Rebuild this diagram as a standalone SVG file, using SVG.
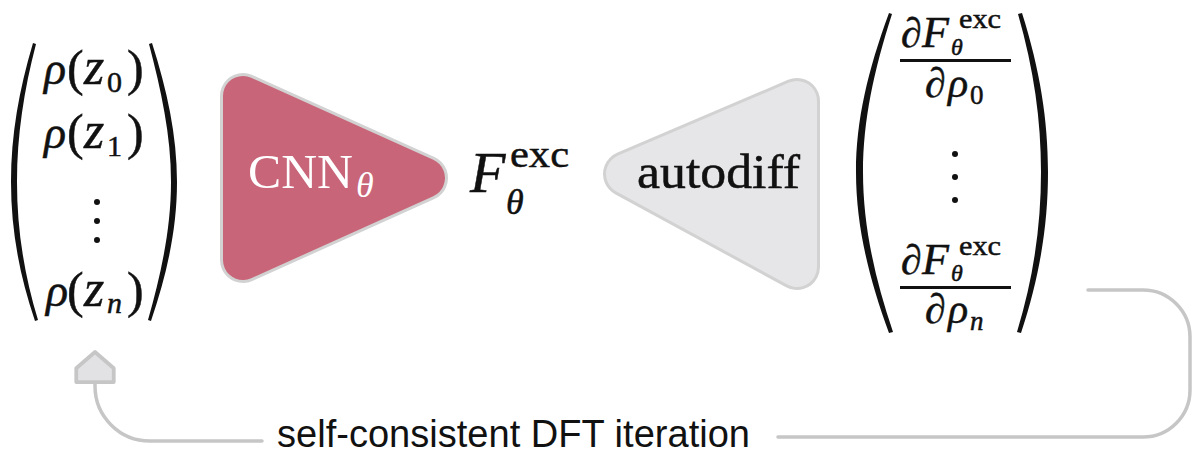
<svg xmlns="http://www.w3.org/2000/svg" width="1194" height="454" viewBox="0 0 1194 454">
<defs>
<style>
.m{font-family:"Liberation Serif","DejaVu Serif",serif;fill:#111;stroke:#111;stroke-width:0.5}
.i{font-style:italic}
.paren{fill:#111}
.conn{fill:none;stroke:#c6c6c6;stroke-width:3.5;stroke-linecap:round}
.lbl{font-family:"Liberation Sans",Arial,sans-serif;font-size:38px;fill:#111}
</style>
<marker id="house" markerUnits="userSpaceOnUse" markerWidth="50" markerHeight="50" viewBox="-5 -20 35 40" refX="0" refY="0" orient="auto" overflow="visible">
<path d="M0,-15 L11,-15 L24,0 L11,15 L0,15 Z" fill="#e2e2e4" stroke="#c6c6c6" stroke-width="3" stroke-linejoin="round"/>
</marker>
</defs>
<rect width="1194" height="454" fill="#ffffff"/>

<g id="input-vector">
<path class="paren" d="M33,43 C19,90 11,135 11,182 C11,229 19,274 35,321 L38,320 C24,274 17,229 17,182 C17,135 24,90 36,44 Z"/>
<path class="paren" d="M152,43 C167,90 177,135 177,182 C177,229 167,274 151,321 L148,320 C161,274 171,229 171,182 C171,135 161,90 149,44 Z"/>
<g font-size="46">
<text x="44" y="84" class="m i">ρ</text><text x="67" y="85" class="m" font-size="50">(</text><text x="84" y="84" class="m i" font-size="52">z</text><text x="107" y="92" class="m" font-size="30">0</text><text x="127" y="85" class="m" font-size="50">)</text>
<text x="44" y="148" class="m i">ρ</text><text x="67" y="149" class="m" font-size="50">(</text><text x="84" y="148" class="m i" font-size="52">z</text><text x="107" y="156" class="m" font-size="30">1</text><text x="127" y="149" class="m" font-size="50">)</text>
<text x="46" y="306" class="m i">ρ</text><text x="67" y="307" class="m" font-size="50">(</text><text x="84" y="306" class="m i" font-size="52">z</text><text x="107" y="313" class="m i" font-size="30">n</text><text x="127" y="307" class="m" font-size="50">)</text>
</g>
<circle cx="97" cy="202" r="3" fill="#111"/>
<circle cx="97" cy="221" r="3" fill="#111"/>
<circle cx="97" cy="240" r="3" fill="#111"/>
</g>

<g id="cnn">
<polygon points="243,96 425,178 243,260" fill="#d2d2d2" stroke="#d2d2d2" stroke-width="46" stroke-linejoin="round"/>
<polygon points="243,96 425,178 243,260" fill="#c96579" stroke="#c96579" stroke-width="40" stroke-linejoin="round"/>
<text x="248" y="188" font-family="Liberation Serif, DejaVu Serif, serif" font-size="48" fill="#ffffff" textLength="105" lengthAdjust="spacingAndGlyphs">CNN</text>
<text x="356" y="197" font-family="Liberation Serif, DejaVu Serif, serif" font-size="36" font-style="italic" fill="#ffffff">θ</text>
</g>

<g id="functional">
<text x="470" y="192" class="m i" font-size="58">F</text>
<text x="510" y="167" class="m" font-size="38" textLength="59" lengthAdjust="spacingAndGlyphs">exc</text>
<text x="506" y="214" class="m i" font-size="36">θ</text>
</g>

<g id="autodiff">
<polygon points="797,101 626,174 797,267" fill="#d2d2d2" stroke="#d2d2d2" stroke-width="46" stroke-linejoin="round"/>
<polygon points="797,101 626,174 797,267" fill="#e6e6e8" stroke="#e6e6e8" stroke-width="40" stroke-linejoin="round"/>
<text x="637" y="188" class="m" font-size="48" stroke-width="0.3" textLength="163" lengthAdjust="spacingAndGlyphs">autodiff</text>
</g>

<g id="gradient-vector">
<path class="paren" d="M889,13 C868,70 856,120 856,172 C856,224 868,276 889,333 L893,332 C874,276 863,224 863,172 C863,120 874,70 892,14 Z"/>
<path class="paren" d="M1022,13 C1040,70 1048,120 1048,172 C1048,224 1040,276 1021,333 L1017,332 C1034,276 1041,224 1041,172 C1041,120 1034,70 1018,14 Z"/>
<text x="901" y="47" class="m i" font-size="42">∂</text>
<text x="922" y="47" class="m i" font-size="44">F</text>
<text x="959" y="28" class="m" font-size="27" textLength="42" lengthAdjust="spacingAndGlyphs">exc</text>
<text x="951" y="55" class="m i" font-size="24">θ</text>
<rect x="900" y="59" width="111" height="3" fill="#111"/>
<text x="925" y="97" class="m i" font-size="42">∂</text>
<text x="948" y="97" class="m i" font-size="42">ρ</text>
<text x="970" y="104" class="m" font-size="27">0</text>
<circle cx="955" cy="154" r="3" fill="#111"/>
<circle cx="955" cy="177" r="3" fill="#111"/>
<circle cx="955" cy="200" r="3" fill="#111"/>
<text x="901" y="274" class="m i" font-size="42">∂</text>
<text x="922" y="274" class="m i" font-size="44">F</text>
<text x="959" y="255" class="m" font-size="27" textLength="42" lengthAdjust="spacingAndGlyphs">exc</text>
<text x="951" y="281" class="m i" font-size="24">θ</text>
<rect x="900" y="286" width="111" height="3" fill="#111"/>
<text x="925" y="323" class="m i" font-size="42">∂</text>
<text x="948" y="323" class="m i" font-size="42">ρ</text>
<text x="970" y="330" class="m i" font-size="27">n</text>
</g>

<g id="connectors">
<path class="conn" d="M1088,290 H1143 A47,47 0 0 1 1190,337 V390 A47,47 0 0 1 1143,437 H778"/>
<path class="conn" d="M262,441 H150 A55,55 0 0 1 95,386 V382" marker-end="url(#house)"/>
</g>

<g id="loop-label">
<text x="277" y="447" class="lbl" textLength="473" lengthAdjust="spacingAndGlyphs">self-consistent DFT iteration</text>
</g>
</svg>
